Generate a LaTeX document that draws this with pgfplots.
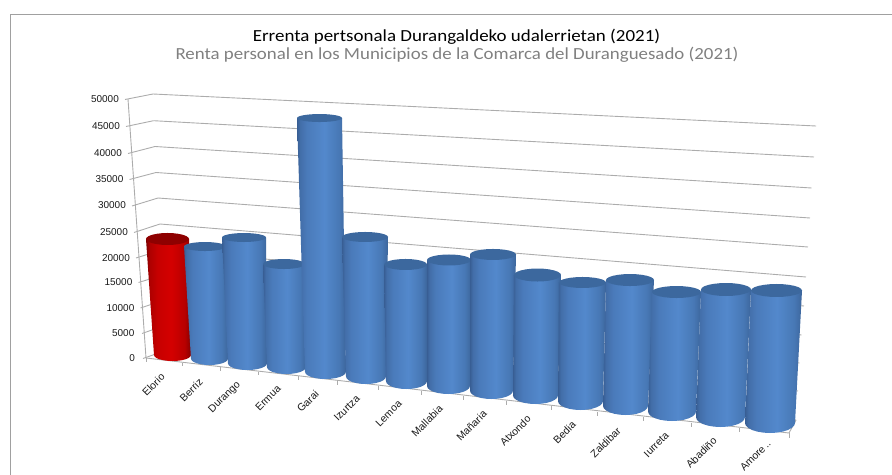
\documentclass[border=0pt]{standalone}
\usepackage{fontspec}
\setmainfont{Liberation Sans}
\newfontfamily\titlefont{Carlito}
\usepackage{pgfplots}
\usepackage{pgfplotstable}
\pgfplotsset{compat=1.18}
\definecolor{gridc}{HTML}{ACACAC}
\definecolor{framec}{HTML}{A0A0A0}
\definecolor{bluetop}{HTML}{3C689E}
\definecolor{redtop}{HTML}{8E0000}
\pgfdeclarehorizontalshading{cylblue}{100bp}{
 rgb(0bp)=(0.22,0.37,0.58);
 rgb(25bp)=(0.22,0.37,0.58);
 rgb(28bp)=(0.26,0.43,0.66);
 rgb(35bp)=(0.29,0.48,0.73);
 rgb(53bp)=(0.325,0.535,0.80);
 rgb(68bp)=(0.28,0.47,0.71);
 rgb(73bp)=(0.25,0.42,0.64);
 rgb(75bp)=(0.23,0.39,0.60);
 rgb(100bp)=(0.23,0.39,0.60)}
\pgfdeclarehorizontalshading{cylred}{100bp}{
 rgb(0bp)=(0.50,0,0);
 rgb(25bp)=(0.50,0,0);
 rgb(29bp)=(0.68,0,0);
 rgb(38bp)=(0.78,0,0);
 rgb(53bp)=(0.83,0,0);
 rgb(68bp)=(0.72,0,0);
 rgb(75bp)=(0.52,0,0);
 rgb(100bp)=(0.52,0,0)}
% unit outline of a cylinder: u = across, t = 0 base / 1 top, s = along the ellipse's short axis
\pgfplotstableread{
u t s
-1 0 0
-0.966 0 0.259
-0.866 0 0.5
-0.707 0 0.707
-0.5 0 0.866
-0.259 0 0.966
0 0 1
0.259 0 0.966
0.5 0 0.866
0.707 0 0.707
0.866 0 0.5
0.966 0 0.259
1 0 0
1 1 0
-1 1 0
}\bodyoutline
\pgfplotstableread{
u s
-1 0
-0.966 0.259
-0.866 0.5
-0.707 0.707
-0.5 0.866
-0.259 0.966
0 1
0.259 0.966
0.5 0.866
0.707 0.707
0.866 0.5
0.966 0.259
1 0
0.966 -0.259
0.866 -0.5
0.707 -0.707
0.5 -0.866
0.259 -0.966
0 -1
-0.259 -0.966
-0.5 -0.866
-0.707 -0.707
-0.866 -0.5
-0.966 -0.259
}\topoutline
\newcommand\seg[4]{\addplot[gridc,line width=0.9pt] coordinates {(#1,#2)(#3,#4)};}
% #1 depth scale (px per 1000), then: shading, base left, base right, base y, base ry, top left, top right, top ry, value
\newcommand\cyl[2]{\def\cylk{#2}\cylx{#1}}
\newcommand\cylx[9]{%
 \def\cyltop{(#4-#9*\cylk/1000)}%
 \addplot[draw=none,shading=cyl#1,shading angle=0] table[
   x expr={(#2+#3)/2+\thisrow{t}*((#6+#7)/2-(#2+#3)/2)+\thisrow{u}*((#3-#2)/2+\thisrow{t}*((#7-#6)-(#3-#2))/2)},
   y expr={#4+\thisrow{t}*(\cyltop-#4)+\thisrow{s}*#5}] {\bodyoutline} --cycle;
 \addplot[draw=none,fill=#1top] table[
   x expr={(#6+#7)/2+\thisrow{u}*(#7-#6)/2},
   y expr={\cyltop+\thisrow{s}*#8}] {\topoutline} --cycle;
}
\newcommand\ylab[3]{\node[anchor=east,inner sep=0pt,font=\fontsize{10}{12}\selectfont,text=black!90] at (axis cs:#1,#2) {#3};}
\newcommand\xlab[3]{\node[anchor=east,inner sep=0pt,rotate=45,font=\fontsize{10.5}{12}\selectfont,text=black!90] at (axis cs:#1,#2) {#3};}
\begin{document}
\begin{tikzpicture}
\path[use as bounding box] (0,0) rectangle (892bp,475bp);
\begin{axis}[
 at={(0,0)},anchor=south west,
 scale only axis,width=892bp,height=475bp,
 xmin=0,xmax=892,ymin=0,ymax=475,y dir=reverse,
 hide axis,clip=false,no markers]
% chart frame
\addplot[framec,line width=1.5pt] coordinates {(10.5,475)(10.5,14.5)(892,14.5)};
% back wall gridlines
\seg{153}{94}{816}{126}
\seg{153.5}{120.7}{814}{157}
\seg{155}{146.5}{811.5}{188}
\seg{156}{172.5}{810}{218}
\seg{158}{198}{808}{247}
\seg{160}{224}{806}{277}
\seg{161.5}{250}{804}{306}
\seg{163}{275}{801.5}{335}
\seg{164.5}{300}{799.5}{363}
\seg{166}{325}{798}{391}
% side wall gridlines with their ticks
\seg{125}{99.5}{153}{94}
\seg{126}{126.5}{153.5}{120.7}
\seg{128}{153.5}{155}{146.5}
\seg{129.5}{179.5}{156}{172.5}
\seg{132}{206}{158}{198}
\seg{134}{232.5}{160}{224}
\seg{136}{258}{161.5}{250}
\seg{138.5}{282.5}{163}{275}
\seg{140.5}{308}{164.5}{300}
\seg{142}{333.5}{166}{325}
\seg{143}{358.5}{167}{350}
\seg{128}{99}{146}{358}
% floor
\seg{146}{358}{789}{433}
\seg{789}{433}{796}{420}
\seg{167}{350}{796}{420}
% category ticks
\seg{146}{358}{146}{362}\seg{182}{362.5}{182}{366}\seg{220}{367}{220}{371}\seg{258}{371.5}{258}{375}
\seg{298}{376}{298}{380}\seg{337}{381}{337}{385}\seg{378}{386}{378}{390}\seg{421}{391}{421}{395}
\seg{463}{396}{463}{400}\seg{506}{401}{506}{405}\seg{551}{406}{551}{410}\seg{597}{412}{597}{416}
\seg{643}{417}{643}{421}\seg{691}{423}{691}{427}\seg{739}{428}{739}{432}\seg{789}{433}{789}{438}
% cylinders, left to right: value is the last number
\cyl{red}{5.200}{154}{191}{355}{6}{146}{189}{6}{22310}
\cyl{blue}{5.247}{191}{228}{358.7}{6.3}{184}{226}{4.5}{21380}
\cyl{blue}{5.294}{228}{267}{363.4}{6.6}{222}{266}{4.5}{23780}
\cyl{blue}{5.341}{267}{306}{367.1}{6.9}{263}{305}{5}{19300}
\cyl{blue}{5.388}{305}{346}{371.8}{7.2}{297}{342}{4}{47100}
\cyl{blue}{5.435}{346}{386}{376.5}{7.5}{342}{388}{5}{25670}
\cyl{blue}{5.482}{386}{427}{381.2}{7.8}{384}{427}{5.5}{21290}
\cyl{blue}{5.529}{427}{470}{386}{8}{427}{471}{5.5}{22790}
\cyl{blue}{5.576}{470}{513}{390.7}{8.3}{470}{516}{5.5}{24430}
\cyl{blue}{5.623}{513}{558}{395.4}{8.6}{514}{561}{6.5}{21410}
\cyl{blue}{5.670}{558}{603}{401.1}{8.9}{559}{606}{5.5}{20920}
\cyl{blue}{5.717}{603}{648}{405.8}{9.2}{606}{654}{6}{22000}
\cyl{blue}{5.764}{648}{696}{411.5}{9.5}{652}{701}{6}{20730}
\cyl{blue}{5.811}{696}{745}{417.2}{9.8}{701}{751}{6.5}{21975}
\cyl{blue}{5.858}{745}{795}{423}{10}{751}{802}{6.5}{22620}
% texts
\node[inner sep=0pt,text=black] at (axis cs:456.5,36.5) {\scalebox{1.12}[1]{\titlefont\fontsize{17}{20}\selectfont Errenta pertsonala Durangaldeko udalerrietan (2021)}};
\node[inner sep=0pt,text=black!50] at (axis cs:457,55) {\scalebox{1.115}[1]{\titlefont\fontsize{17}{20}\selectfont Renta personal en los Municipios de la Comarca del Duranguesado (2021)}};
\ylab{119}{99}{50000}
\ylab{120}{126.5}{45000}
\ylab{122}{153}{40000}
\ylab{123.5}{179.5}{35000}
\ylab{126}{205.5}{30000}
\ylab{128}{232}{25000}
\ylab{130}{258}{20000}
\ylab{132.5}{282.5}{15000}
\ylab{134.5}{308}{10000}
\ylab{134.5}{333}{5000}
\ylab{135}{358}{0}
\xlab{163}{375}{Elorio}
\xlab{201}{380}{Berriz}
\xlab{239}{383}{Durango}
\xlab{279}{387}{Ermua}
\xlab{317}{392}{Garai}
\xlab{358}{397}{Izurtza}
\xlab{400}{402}{Lemoa}
\xlab{441}{407}{Mallabia}
\xlab{485}{412}{Mañaria}
\xlab{529}{417}{Atxondo}
\xlab{574}{423}{Bedia}
\xlab{619}{429}{Zaldibar}
\xlab{667}{434}{Iurreta}
\xlab{715}{439}{Abadiño}
\xlab{769}{442}{Amore\,..}
\end{axis}
\end{tikzpicture}
\end{document}
